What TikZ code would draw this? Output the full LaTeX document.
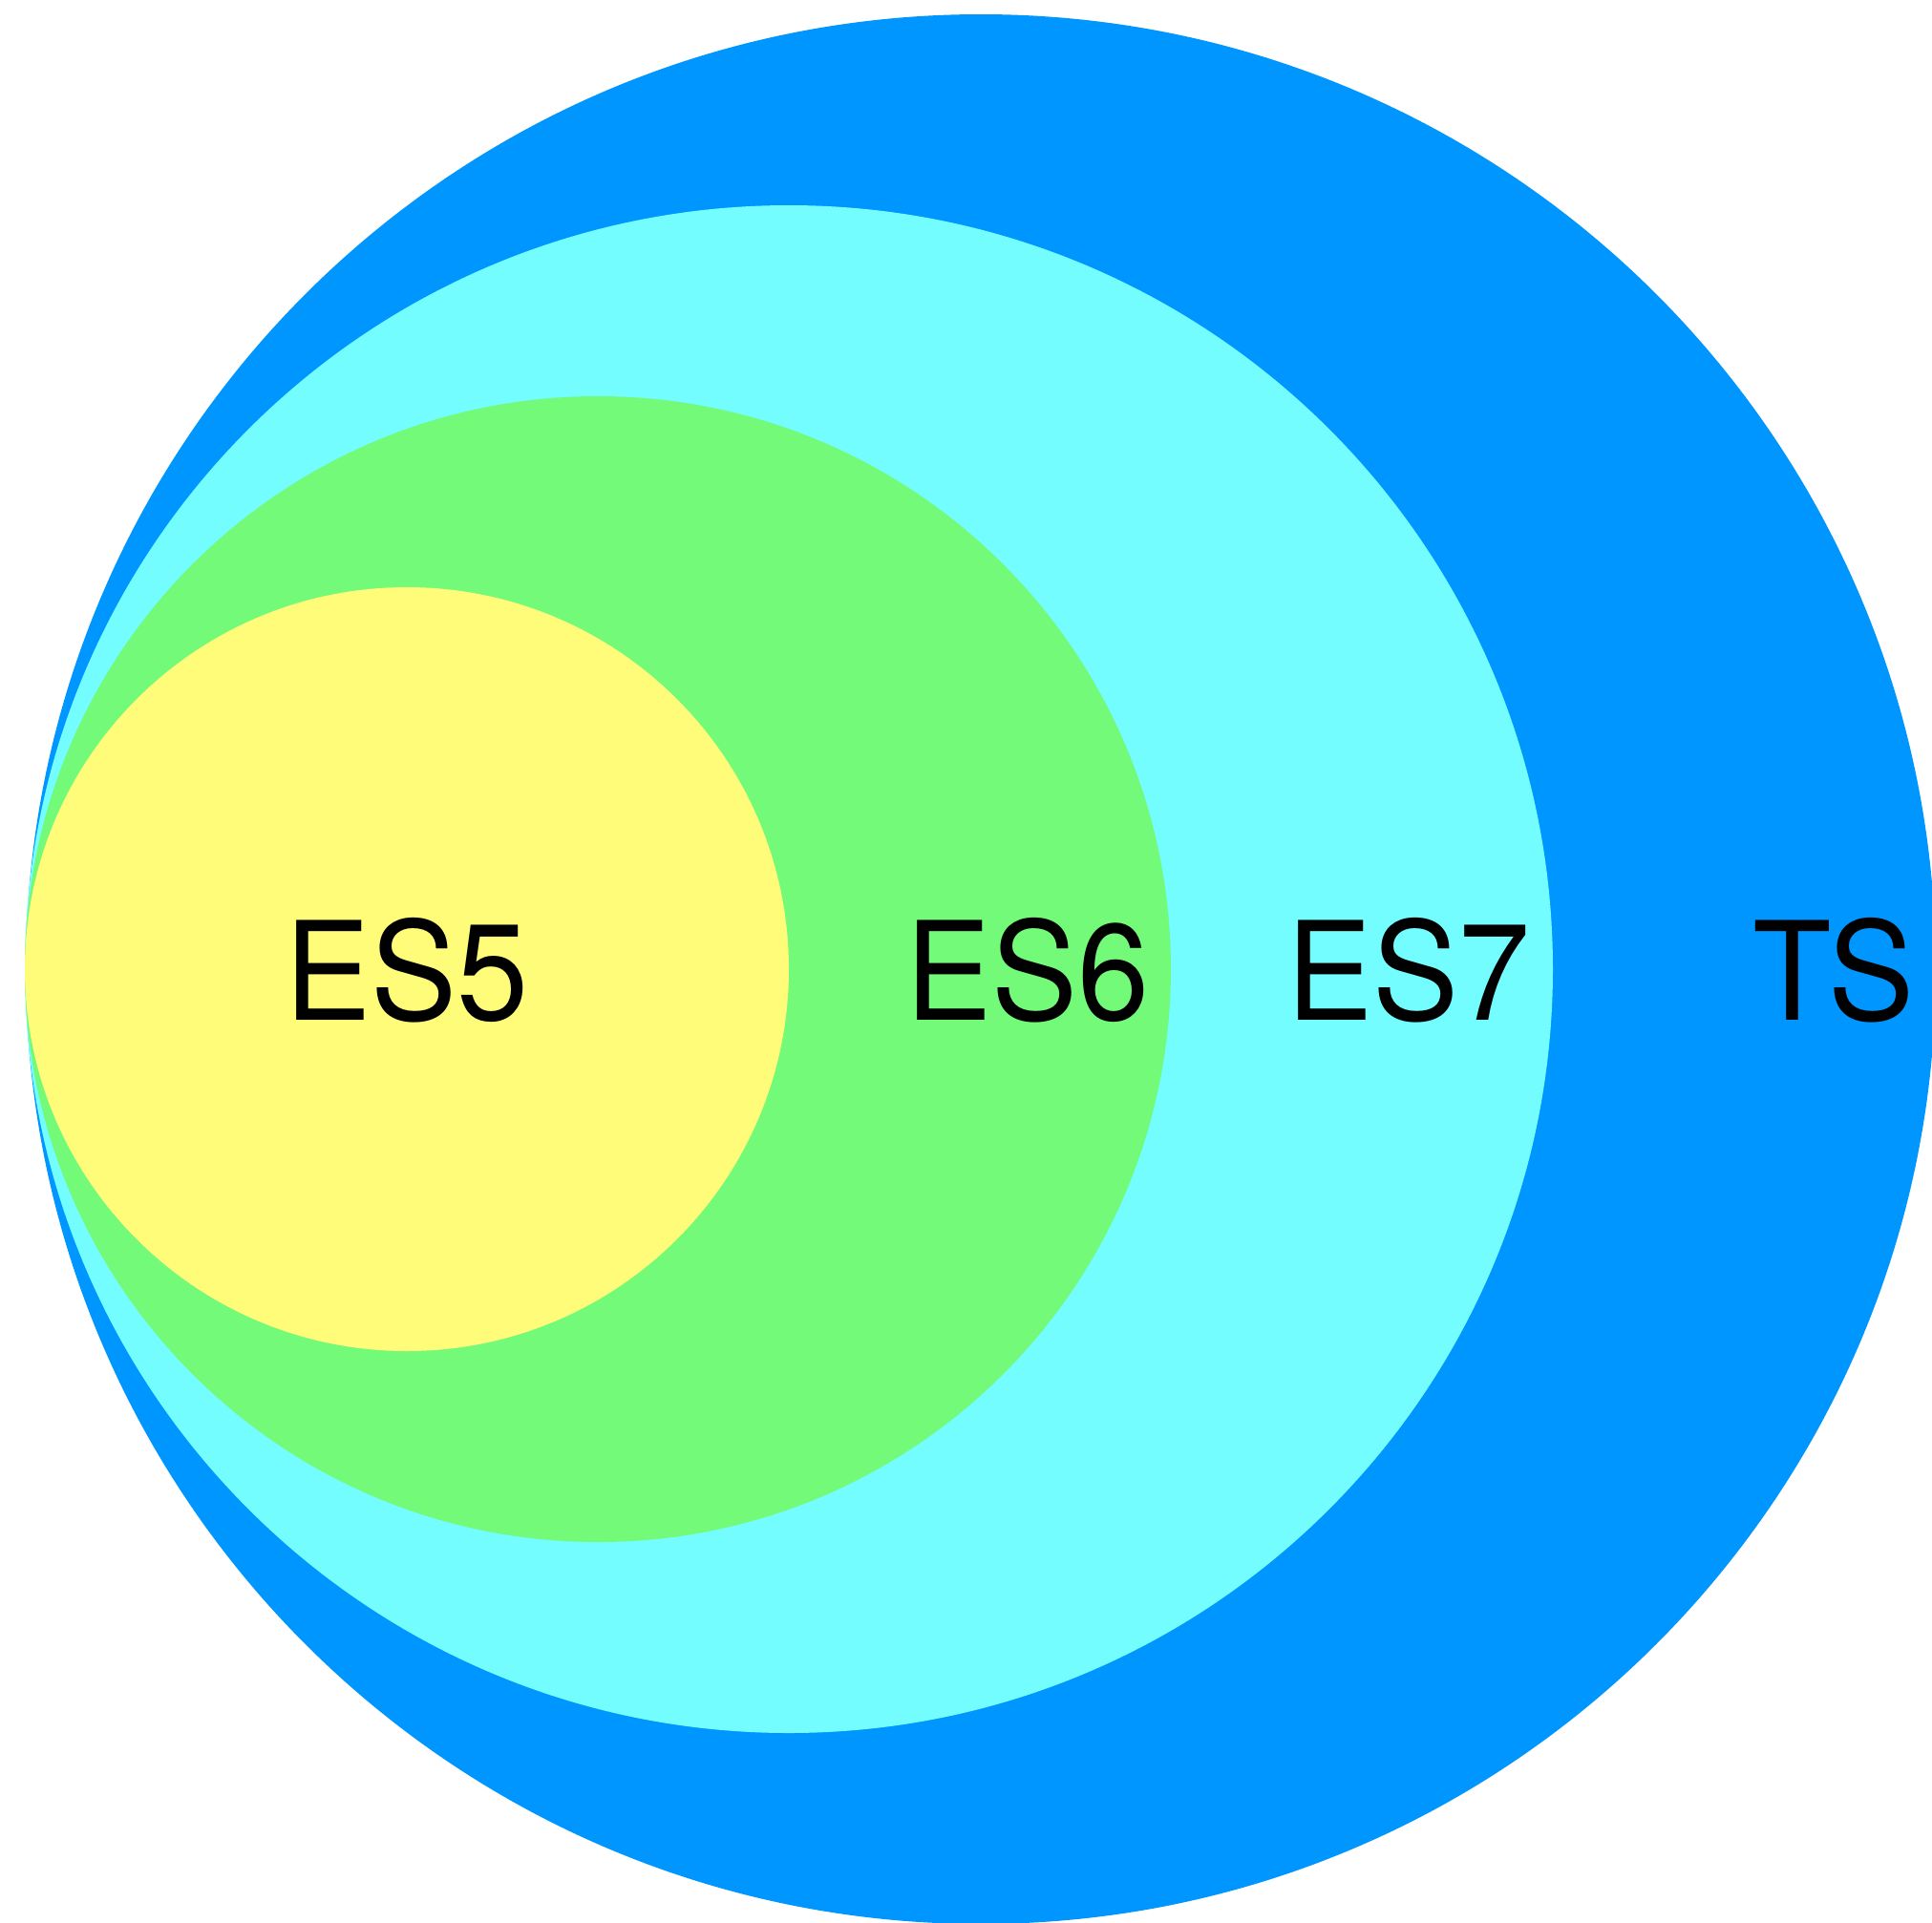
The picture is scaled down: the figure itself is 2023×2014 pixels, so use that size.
\documentclass[tikz,border=0pt]{standalone}
\usepackage{fontspec}
\setmainfont{TeX Gyre Heros}
\usepackage{graphicx}
\definecolor{aqua}{HTML}{0096FF}
\definecolor{ice}{HTML}{73FDFF}
\definecolor{flora}{HTML}{73FA79}
\definecolor{banana}{HTML}{FFFC79}
\tikzset{
  disc/.style={fill=#1, draw=none},
  lbl/.style={anchor=base west, inner sep=0pt, text=black,
    font=\fontsize{40.8}{48}\selectfont}
}
\newcommand{\narrowtext}[1]{\scalebox{0.94}[1]{#1}}
\begin{document}
\begin{tikzpicture}[x=0.01cm, y=-0.01cm]
  \useasboundingbox (0,0) rectangle (2023,2014);
  \clip (0,0) rectangle (2023,2014);
  % nested sets, all touching on the left
  \fill[disc=aqua]   (1027,1015) circle[radius=1000];
  \fill[disc=ice]    (826,1015)  circle[radius=800];
  \fill[disc=flora]  (626,1015)  circle[radius=600];
  \fill[disc=banana] (426,1015)  circle[radius=400];
  % labels
  \node[lbl] (es5) at (298,1068)  {\narrowtext{ES5}};
  \node[lbl] (es6) at (948,1068)  {\narrowtext{ES6}};
  \node[lbl] (es7) at (1347,1068) {\narrowtext{ES7}};
  \node[lbl] (ts)  at (1835,1068) {\narrowtext{TS}};
\end{tikzpicture}
\end{document}
